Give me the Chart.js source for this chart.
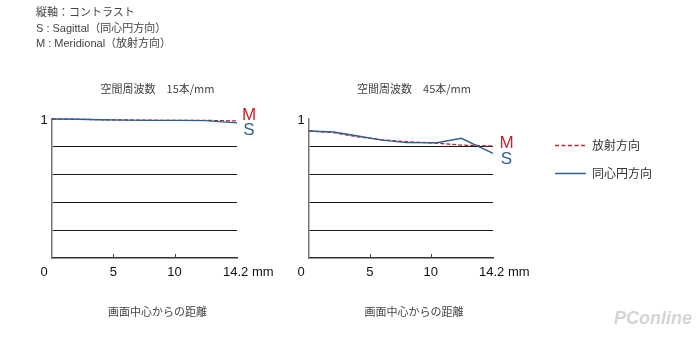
<!DOCTYPE html>
<html>
<head>
<meta charset="utf-8">
<script src="https://cdn.jsdelivr.net/npm/chart.js@4/dist/chart.umd.min.js"></script>
<style>
  html, body { margin: 0; padding: 0; background: #ffffff; }
  #wrap { position: relative; width: 700px; height: 337px; overflow: hidden; background: #fff; }
  canvas { position: absolute; left: 0; top: 0; }
  .hdr { position: absolute; left: 36px; font: 11px "Liberation Sans", "Noto Sans CJK JP", sans-serif; color: #444; line-height: 15px; white-space: nowrap; }
  .leg { position: absolute; left: 592px; font: 12px "Noto Sans CJK JP", sans-serif; color: #333; line-height: 16px; white-space: nowrap; }
  .wm { position: absolute; right: 8px; bottom: 8px; font: bold 18px "Liberation Sans", sans-serif; color: #d4d4d4; font-style: italic; }
</style>
</head>
<body>
<div id="wrap">
  <canvas id="c1" width="700" height="337"></canvas>
  <canvas id="c2" width="700" height="337"></canvas>
  <div class="hdr" style="top:5px">縦軸：コントラスト</div>
  <div class="hdr" style="top:21px">S : Sagittal（同心円方向）</div>
  <div class="hdr" style="top:36px">M : Meridional（放射方向）</div>
  <svg style="position:absolute;left:0;top:0" width="700" height="337">
    <line x1="555" y1="145.5" x2="586" y2="145.5" stroke="#c8202e" stroke-width="1.5" stroke-dasharray="4 2.5"/>
    <line x1="555" y1="173.5" x2="586" y2="173.5" stroke="#2c5f92" stroke-width="1.5"/>
  </svg>
  <div class="leg" style="top:137px">放射方向</div>
  <div class="leg" style="top:165px">同心円方向</div>
  <div class="wm">PConline</div>
</div>
<script>
// ---- data (x read against the 5 / 10 tick marks; the axis end is labelled 14.2 mm) ----
const xPositions = [0, 2, 4, 6, 8, 10.5, 12.5, 15.1];
const merid15 = [1.0, 0.998, 0.995, 0.993, 0.991, 0.99, 0.99, 0.986];
const sagit15 = [1.0, 0.998, 0.995, 0.992, 0.99, 0.99, 0.988, 0.972];
const merid45 = [0.914, 0.902, 0.872, 0.85, 0.837, 0.826, 0.812, 0.806];
const sagit45 = [0.914, 0.906, 0.878, 0.848, 0.83, 0.829, 0.861, 0.753];
const xAxisEnd = 15.1;
const xTickValues = [0, 5, 10, xAxisEnd];
const xTickLabels = ['0', '5', '10', '14.2 mm'];
const yTickLabel = '1';
const titles = ['空間周波数　15本/mm', '空間周波数　45本/mm'];
const xTitle = '画面中心からの距離';
const seriesNames = ['放射方向', '同心円方向'];

const RED = '#c8202e';
const BLUE = '#2c5f92';

const toPts = (vals) => vals.map((v, i) => ({ x: xPositions[i], y: v }));

const deco = {
  id: 'deco',
  afterDraw(chart, args, opts) {
    const { ctx, chartArea: a, scales: { x, y } } = chart;
    ctx.save();
    // inner tick marks
    ctx.strokeStyle = '#444';
    ctx.lineWidth = 1;
    [5, 10].forEach(v => {
      const px = Math.round(x.getPixelForValue(v)) + 0.5;
      ctx.beginPath(); ctx.moveTo(px, a.bottom); ctx.lineTo(px, a.bottom - 4); ctx.stroke();
    });
    // x tick labels
    ctx.font = '13px "Liberation Sans", Arial, sans-serif';
    ctx.fillStyle = '#111';
    ctx.textBaseline = 'middle';
    const ly = a.bottom + 14;
    xTickValues.forEach((v, i) => {
      const px = x.getPixelForValue(v);
      if (i === 0) { ctx.textAlign = 'center'; ctx.fillText(xTickLabels[i], px - 8, ly); }
      else if (i === xTickValues.length - 1) { ctx.textAlign = 'left'; ctx.fillText(xTickLabels[i], px - 14, ly); }
      else { ctx.textAlign = 'center'; ctx.fillText(xTickLabels[i], px, ly); }
    });
    // y tick label
    ctx.textAlign = 'center';
    ctx.fillText(yTickLabel, a.left - 8, y.getPixelForValue(1) + 1);
    // titles
    ctx.font = '11px "Noto Sans CJK JP", sans-serif';
    ctx.fillStyle = '#444';
    const cx = (a.left + a.right) / 2 + 13;
    ctx.fillText(opts.title, cx, a.top - 30);
    ctx.fillText(xTitle, cx, a.bottom + 54);
    // M / S labels
    ctx.font = '17px "Liberation Sans", Arial, sans-serif';
    ctx.fillStyle = RED;
    ctx.fillText('M', a.right + opts.lx, opts.my);
    ctx.fillStyle = BLUE;
    ctx.fillText('S', a.right + opts.lx, opts.sy);
    ctx.restore();
  }
};

function makeChart(id, pad, mVals, sVals, decoOpts) {
  return new Chart(document.getElementById(id), {
    type: 'line',
    data: {
      datasets: [
        { label: seriesNames[1], data: toPts(sVals), borderColor: BLUE, borderWidth: 1.4, pointRadius: 0, tension: 0, clip: false },
        { label: seriesNames[0], data: toPts(mVals), borderColor: RED, borderWidth: 1.3, borderDash: [4, 2], pointRadius: 0, tension: 0, clip: false }
      ]
    },
    options: {
      responsive: false,
      animation: false,
      layout: { padding: pad },
      plugins: { legend: { display: false }, tooltip: { enabled: false }, deco: decoOpts },
      scales: {
        x: {
          type: 'linear', min: 0, max: xAxisEnd,
          ticks: { display: false },
          grid: { display: false, drawTicks: false },
          border: { display: true, color: '#333', width: 1.5 }
        },
        y: {
          min: 0, max: 1,
          ticks: { display: false, stepSize: 0.2 },
          grid: {
            drawTicks: false,
            color: (c) => (c.tick && c.tick.value > 0.01 && c.tick.value < 0.99) ? '#1a1a1a' : 'rgba(0,0,0,0)',
            lineWidth: 1
          },
          border: { display: true, color: '#777', width: 1.5 }
        }
      }
    },
    plugins: [deco]
  });
}

makeChart('c1', { left: 52, right: 463, top: 119, bottom: 79 }, merid15, sagit15,
  { title: titles[0], lx: 12, my: 115.5, sy: 130.5 });
makeChart('c2', { left: 309, right: 207, top: 119, bottom: 79 }, merid45, sagit45,
  { title: titles[1], lx: 13.5, my: 143, sy: 159 });
</script>
</body>
</html>
